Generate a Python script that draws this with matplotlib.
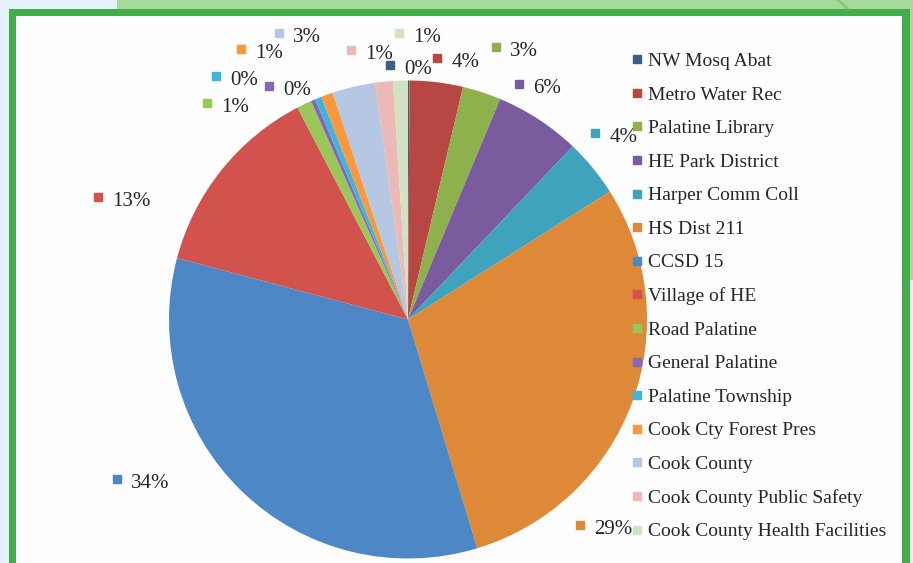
import matplotlib
matplotlib.use("Agg")
import matplotlib.pyplot as plt
from matplotlib.patches import Rectangle
from matplotlib.lines import Line2D

# ---------------------------
# DATA
# ---------------------------
names = ["NW Mosq Abat", "Metro Water Rec", "Palatine Library", "HE Park District",
         "Harper Comm Coll", "HS Dist 211", "CCSD 15", "Village of HE",
         "Road Palatine", "General Palatine", "Palatine Township",
         "Cook Cty Forest Pres", "Cook County", "Cook County Public Safety",
         "Cook County Health Facilities"]
shares = [0.1, 3.6, 2.6, 5.8, 3.9, 29.3, 33.8, 13.2, 1.0, 0.3, 0.45, 0.8, 2.9, 1.2, 1.0]

colors = ["#3D5E86", "#B84743", "#8EB14D", "#7A5C9E", "#3FA3BE", "#DE8938",
          "#4D87C6", "#D2534E", "#9BC75A", "#8767B5", "#40B4DA", "#F9983D",
          "#B5C7E3", "#EBB9B8", "#D3E2C1"]

# where the data labels (key square) sit, in pie radius units
label_pos = [(-0.075, 1.065), (0.121, 1.094), (0.368, 1.140), (0.464, 0.985),
             (0.782, 0.780), (0.720, -0.860), (-1.218, -0.667), (-1.297, 0.513),
             (-0.841, 0.906), (-0.582, 0.977), (-0.803, 1.019), (-0.699, 1.132),
             (-0.540, 1.199), (-0.238, 1.128), (-0.038, 1.199)]

W, H = 913, 563
fig = plt.figure(figsize=(W / 100, H / 100), dpi=100)
fig.patch.set_facecolor("#E4F3FA")


def rect(x0, y0, x1, y1, color):
    # pixel box (top-left origin) -> figure fraction
    fig.add_artist(Rectangle((x0 / W, 1 - y1 / H), (x1 - x0) / W, (y1 - y0) / H,
                             transform=fig.transFigure, facecolor=color,
                             edgecolor="none", zorder=0))


# background bits
rect(117, 0, W, 9, "#A8D99C")
rect(910, 0, W, 280, "#A8D99C")
rect(9, 9, 910, H, "#43AC4B")
rect(16, 16, 902, H, "#FDFDFD")
fig.add_artist(Line2D([838 / W, 848 / W], [1, 1 - 9 / H], transform=fig.transFigure,
                      color="#7CC66A", lw=1.5))

# ---------------------------
# PIE
# ---------------------------
cx, cy, R = 408, 319.5, 239
ax = fig.add_axes([(cx - R) / W, 1 - (cy + R) / H, 2 * R / W, 2 * R / H])
ax.axis("off")

ax.pie(shares, colors=colors, startangle=90, counterclock=False, radius=1,
       wedgeprops=dict(linewidth=0))
ax.set_xlim(-1, 1)
ax.set_ylim(-1, 1)

total = sum(shares)
for (lx, ly), v, c in zip(label_pos, shares, colors):
    ax.plot(lx, ly, marker="s", ms=5.5, color=c, ls="", clip_on=False)
    ax.text(lx + 0.06, ly - 0.02, f"{v / total * 100:.0f}%", fontsize=15,
            family="Liberation Serif", color="#262626", va="center", ha="left")

# ---------------------------
# LEGEND
# ---------------------------
handles = [Line2D([], [], marker="s", ls="", ms=5.5, color=c) for c in colors]
leg = fig.legend(handles, names, loc="upper left",
                 bbox_to_anchor=(631.2 / W, 1 - 52.5 / H),
                 frameon=False, borderpad=0, borderaxespad=0,
                 handlelength=0.6, handletextpad=0.26, labelspacing=0.82,
                 prop={"family": "Liberation Serif", "size": 14})
for t in leg.get_texts():
    t.set_color("#262626")

plt.savefig("out.png", dpi=100)
plt.close()
